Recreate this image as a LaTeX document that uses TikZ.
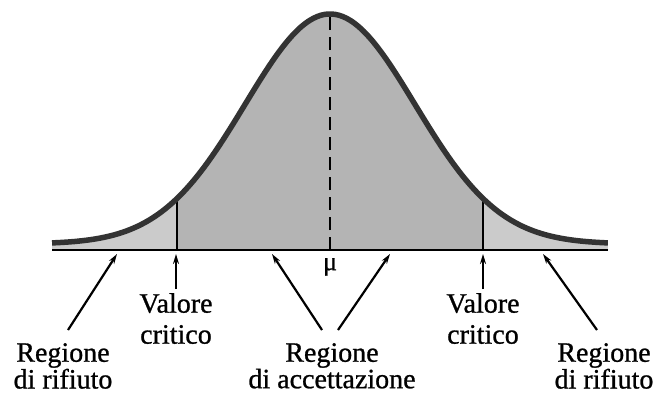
\documentclass[tikz,border=0pt]{standalone}
\usepackage{fontspec}
\setmainfont[FakeBold=0.9]{Liberation Serif}
\usepackage{tikz}
\usetikzlibrary{arrows.meta, positioning}
\definecolor{CurveInk}{HTML}{333333}
\definecolor{TailFill}{HTML}{CBCBCB}
\definecolor{BodyFill}{HTML}{B4B4B4}

\begin{document}
\begin{tikzpicture}[
    x=1pt, y=-1pt,
    declare function={gauss(\t)=244-230*exp(-(\t)*(\t)/2);},
    curve/.style={line width=5.5pt, draw=CurveInk, line join=round},
    axisline/.style={line width=1.3pt, draw=black},
    critline/.style={line width=1.1pt, draw=black},
    meanline/.style={line width=1.2pt, draw=black, dash pattern=on 13pt off 7pt},
    pointer/.style={line width=2.2pt, -{Stealth[length=10pt,width=6pt]}},
    lbl/.style={font=\fontsize{28}{25}\selectfont, align=center, inner sep=0pt, anchor=north},
    critlbl/.style={lbl, font=\fontsize{28}{31}\selectfont},
  ]
    \useasboundingbox (0,0) rectangle (655,396);
    % regions under the curve
    \fill[TailFill] (52,250) -- plot[domain=-3.27:-1.8, samples=40] ({330+85*\x},{gauss(\x)}) -- (177,250) -- cycle;
    \fill[TailFill] (483,250) -- plot[domain=1.8:3.27, samples=40] ({330+85*\x},{gauss(\x)}) -- (608,250) -- cycle;
    \fill[BodyFill] (177,250) -- plot[domain=-1.8:1.8, samples=80] ({330+85*\x},{gauss(\x)}) -- (483,250) -- cycle;
    \draw[critline] (177,250) -- (177,{gauss(-1.8)});
    \draw[critline] (483,250) -- (483,{gauss(1.8)});
    \draw[meanline] (330,250) -- (330,{gauss(0)});
    \draw[curve] plot[domain=-3.27:3.27, samples=150, smooth] ({330+85*\x},{gauss(\x)});
    \draw[axisline] (52,250) -- (608,250);
    \node[font=\fontsize{26}{26}\selectfont, inner sep=0pt, anchor=north] (mu) at (330,258) {μ};

    \coordinate (tipRL) at (117,254);
    \coordinate (tipVL) at (176,254);
    \coordinate (tipAL) at (272,254);
    \coordinate (tipAR) at (390,254);
    \coordinate (tipVR) at (483,254);
    \coordinate (tipRR) at (543,254);

    \node[lbl] (lblRL) at (63,343) {Regione\\di rifiuto};
    \node[critlbl] (lblVL) at (176,293) {Valore\\critico};
    \node[lbl] (lblA) at (332,343) {Regione\\di accettazione};
    \node[critlbl] (lblVR) at (483,293) {Valore\\critico};
    \node[lbl] (lblRR) at (604,343) {Regione\\di rifiuto};

    \draw[pointer] ([xshift=5pt, yshift=13pt]lblRL.north) -- (tipRL);
    \draw[pointer] ([yshift=4pt]lblVL.north) -- (tipVL);
    \draw[pointer] ([xshift=-10pt, yshift=13pt]lblA.north) -- (tipAL);
    \draw[pointer] ([xshift=6pt, yshift=13pt]lblA.north) -- (tipAR);
    \draw[pointer] ([yshift=4pt]lblVR.north) -- (tipVR);
    \draw[pointer] ([xshift=-7pt, yshift=13pt]lblRR.north) -- (tipRR);
  \end{tikzpicture}
\end{document}
